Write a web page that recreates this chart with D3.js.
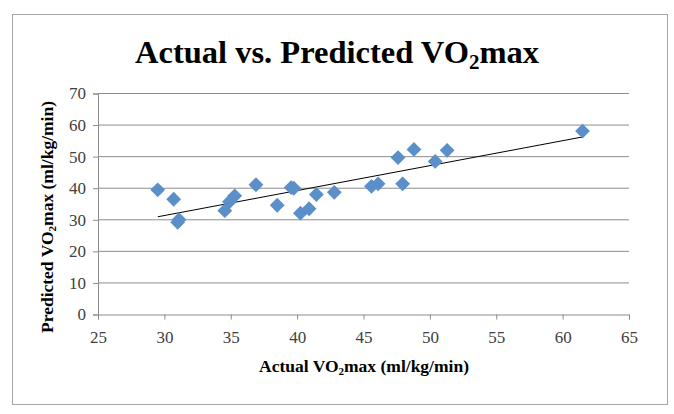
<!DOCTYPE html>
<html><head><meta charset="utf-8">
<script src="https://cdn.jsdelivr.net/npm/d3@7"></script>
<style>body{margin:0;background:#fff}svg{display:block}</style>
</head><body>
<svg id="c" width="674" height="414"></svg>
<script>
const actual = [29.5,30.7,31.0,31.1,34.55,34.9,35.3,36.9,38.5,39.55,39.75,40.25,40.9,41.45,42.8,45.6,46.1,47.6,47.95,48.8,50.4,51.3,61.5];
const predicted = [39.5,36.5,29.2,30.0,32.9,35.7,37.6,41.1,34.6,40.2,40.0,32.1,33.5,38.0,38.7,40.6,41.4,49.7,41.4,52.3,48.5,52.0,58.1];
const xTicks = [25,30,35,40,45,50,55,60,65];
const yTicks = [0,10,20,30,40,50,60,70];

const svg = d3.select("#c");
const serif = "'Liberation Serif','Times New Roman',serif";
svg.append("rect").attr("x",12.5).attr("y",14.5).attr("width",655).attr("height",390)
  .attr("fill","#fff").attr("stroke","#a6a6a6");

const x = d3.scaleLinear().domain([25,65]).range([98,629]);
const y = d3.scaleLinear().domain([0,70]).range([314.5,93.5]);

// gridlines
svg.append("g").selectAll("line").data(yTicks.filter(d=>d>0)).join("line")
  .attr("x1",x(25)).attr("x2",x(65)).attr("y1",d=>y(d)).attr("y2",d=>y(d))
  .attr("stroke","#8c8c8c").attr("stroke-width",1);

const xa = svg.append("g").attr("transform",`translate(0,${y(0)})`)
  .call(d3.axisBottom(x).tickValues(xTicks).tickSize(5).tickPadding(11));
const ya = svg.append("g").attr("transform",`translate(${x(25)},0)`)
  .call(d3.axisLeft(y).tickValues(yTicks).tickSize(5).tickPadding(7));
[xa,ya].forEach(a=>{
  a.selectAll("path,line").attr("stroke","#8c8c8c");
  a.selectAll("text").attr("font-family",serif).attr("font-size",17).attr("fill","#404040");
});

// trend line (least squares)
const mx = d3.mean(actual), my = d3.mean(predicted);
const slope = d3.sum(actual.map((a,i)=>(a-mx)*(predicted[i]-my))) / d3.sum(actual.map(a=>(a-mx)**2));
const icpt = my - slope*mx;
const [x0,x1] = d3.extent(actual);
svg.append("line").attr("x1",x(x0)).attr("x2",x(x1))
  .attr("y1",y(icpt+slope*x0)).attr("y2",y(icpt+slope*x1))
  .attr("stroke","#000").attr("stroke-width",1);

// points
svg.append("g").selectAll("path").data(actual.map((a,i)=>[a,predicted[i]])).join("path")
  .attr("transform",d=>`translate(${x(d[0])},${y(d[1])}) rotate(45)`)
  .attr("d",d3.symbol().type(d3.symbolSquare).size(110)())
  .attr("fill","#5b8fc9");

// title
const t = svg.append("text").attr("x",337).attr("y",63).attr("text-anchor","middle")
  .attr("font-family",serif).attr("font-weight","bold").attr("font-size",32.5).attr("fill","#000");
t.append("tspan").text("Actual vs. Predicted VO");
t.append("tspan").text("2").attr("font-size",21).attr("dy",6);
t.append("tspan").text("max").attr("dy",-6);

// x label
const xl = svg.append("text").attr("x",364).attr("y",372).attr("text-anchor","middle")
  .attr("font-family",serif).attr("font-weight","bold").attr("font-size",17.5);
xl.append("tspan").text("Actual VO");
xl.append("tspan").text("2").attr("font-size",11).attr("dy",3);
xl.append("tspan").text("max (ml/kg/min)").attr("dy",-3);

// y label
const yl = svg.append("text").attr("transform","translate(53,217) rotate(-90)").attr("text-anchor","middle")
  .attr("font-family",serif).attr("font-weight","bold").attr("font-size",17.5);
yl.append("tspan").text("Predicted VO");
yl.append("tspan").text("2").attr("font-size",11).attr("dy",3);
yl.append("tspan").text("max (ml/kg/min)").attr("dy",-3);
</script>
</body></html>
